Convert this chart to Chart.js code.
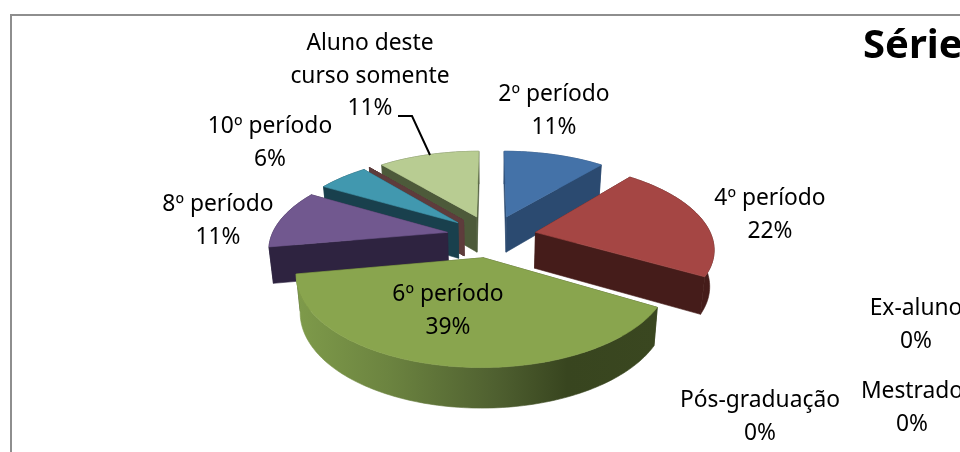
<!DOCTYPE html>
<html><head><meta charset="utf-8">
<style>html,body{margin:0;padding:0;background:#fff;overflow:hidden}canvas{display:block}</style>
<script src="https://cdn.jsdelivr.net/npm/chart.js@4"></script>
</head><body><canvas id="c" width="960" height="452"></canvas>
<script>
const seriesName = "Série1";
const categories = ["2º período","4º período","6º período","8º período","10º período","Pós-graduação","Mestrado","Ex-aluno","Aluno deste curso somente"];
const values = [2,4,7,2,1,0,0,0,2];
const topColors = ["#4472a8","#a54644","#89a54e","#71588f","#4198af","#5e3c3c","#5e3c3c","#5e3c3c","#b8cc92"];
const wallColors = ["#2b4a70","#451c1a","#3a4720","#2e2340","#19404d","#5e3c3c","#5e3c3c","#5e3c3c","#4d5a3a"];
const labelLines = [["2º período"],["4º período"],["6º período"],["8º período"],["10º período"],["Pós-graduação"],["Mestrado"],["Ex-aluno"],["Aluno deste","curso somente"]];
const labelSpots = [[554,95],[770,199],[448,295],[218,205],[270,127],[760,401],[912,392],[916,309],[370,44]];

const view = {cx:491.5, cy:236, R:176, k:0.47, a:0.17, depth:36, taper:0.98, explode:45};
const FONT = '22.8px "Noto Sans", "Open Sans", sans-serif';

function project(arc, theta, r, z){
  const mid=(arc.startAngle+arc.endAngle)/2, e=view.explode/view.R;
  const u=e*Math.cos(mid)+r*Math.cos(theta), v=e*Math.sin(mid)+r*Math.sin(theta);
  const p=1/(1-view.a*v);
  let x=view.R*u*p, y=view.R*view.k*v*p;
  if(z){x*=view.taper; y+=view.depth*Math.sqrt(p);}
  return [view.cx+x, view.cy+y];
}
function rimPoints(arc,z,rev){
  const n=Math.max(2,Math.ceil((arc.endAngle-arc.startAngle)/0.02)),pts=[];
  for(let i=0;i<=n;i++){const t=arc.startAngle+(arc.endAngle-arc.startAngle)*(rev?n-i:i)/n;pts.push(project(arc,t,1,z));}
  return pts;
}
function poly(ctx,pts,fill){
  ctx.beginPath();pts.forEach((q,i)=>i?ctx.lineTo(q[0],q[1]):ctx.moveTo(q[0],q[1]));ctx.closePath();
  ctx.fillStyle=fill;ctx.strokeStyle=fill;ctx.lineWidth=0.6;ctx.fill();ctx.stroke();
}
function wall(ctx,arc,theta,fill){
  poly(ctx,[project(arc,theta,0,0),project(arc,theta,1,0),project(arc,theta,1,1),project(arc,theta,0,1)],fill);
}
const pie3d={
  id:'pie3d',
  beforeDraw(chart){
    const ctx=chart.ctx;ctx.save();
    ctx.fillStyle='#fff';ctx.fillRect(0,0,960,452);
    ctx.strokeStyle='#8e8e8e';ctx.lineWidth=2;ctx.strokeRect(11,15,1000,600);
    ctx.restore();
  },
  beforeDatasetDraw(chart){
    const ctx=chart.ctx, arcs=chart.getDatasetMeta(0).data;
    const order=arcs.map((a,i)=>i).sort((i,j)=>Math.sin((arcs[i].startAngle+arcs[i].endAngle)/2)-Math.sin((arcs[j].startAngle+arcs[j].endAngle)/2));
    ctx.save();
    order.forEach(i=>{
      const arc=arcs[i], mid=(arc.startAngle+arc.endAngle)/2;
      let rimFill=wallColors[i];
      if(i===2){
        const g=ctx.createLinearGradient(298,0,657,0);
        g.addColorStop(0,'#7e9a4a');g.addColorStop(0.25,'#6c8440');g.addColorStop(0.55,'#4f6030');g.addColorStop(0.75,'#38451f');g.addColorStop(1,'#3a4720');
        rimFill=g;
      }
      const rim=()=>{ if(arc.endAngle>arc.startAngle) poly(ctx,rimPoints(arc,0,false).concat(rimPoints(arc,1,true)),rimFill); };
      const front=Math.sin(mid)>=0;
      if(!front) rim();
      [arc.startAngle,arc.endAngle].sort((p,q)=>Math.sin(p)-Math.sin(q)).forEach(t=>wall(ctx,arc,t,wallColors[i]));
      if(front) rim();
      if(arc.endAngle>arc.startAngle){
        poly(ctx,[project(arc,0,0,0)].concat(rimPoints(arc,0,false)),topColors[i]);
      }
    });
    ctx.restore();
    return false;
  },
  afterDatasetsDraw(chart){
    const ctx=chart.ctx, total=values.reduce((a,b)=>a+b,0);
    ctx.save();
    ctx.strokeStyle='#000';ctx.lineWidth=2;
    ctx.beginPath();ctx.moveTo(398,116);ctx.lineTo(412,116);ctx.lineTo(430,155);ctx.stroke();
    ctx.fillStyle='#000';ctx.textAlign='center';ctx.textBaseline='middle';ctx.font=FONT;
    labelLines.forEach((lines,i)=>{
      const s=labelSpots[i];
      const all=lines.concat([Math.round(values[i]/total*100)+'%']);
      all.forEach((t,n)=>ctx.fillText(t,s[0],s[1]+n*32.5));
    });
    ctx.font='bold 40px "Noto Sans", "Open Sans", sans-serif';ctx.textAlign='left';
    ctx.fillText(seriesName,863,47);
    ctx.restore();
  }
};
new Chart(document.getElementById('c'),{
  type:'pie',
  data:{labels:categories,datasets:[{label:seriesName,data:values,backgroundColor:topColors,borderWidth:0}]},
  options:{responsive:false,animation:false,events:[],plugins:{legend:{display:false},title:{display:false},tooltip:{enabled:false}}},
  plugins:[pie3d]
});
</script></body></html>
